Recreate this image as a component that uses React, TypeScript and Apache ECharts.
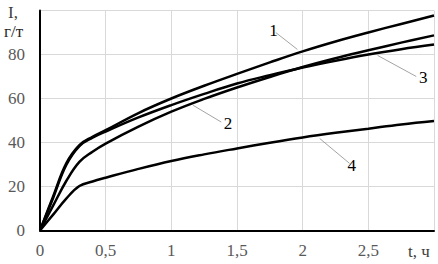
import React, { useEffect, useRef } from "react";
import * as echarts from "echarts";

const tValues = [0, 0.1, 0.2, 0.3, 0.4, 0.5, 0.75, 1, 1.25, 1.5, 1.75, 2, 2.25, 2.5, 2.75, 3];
const curve1 = [0, 15.5, 30.5, 38.8, 42.6, 45.6, 53.4, 60, 65.8, 71.2, 76.4, 81.4, 85.9, 90, 93.9, 97.7];
const curve2 = [0, 11.3, 22.5, 31.2, 35.8, 39.5, 47.2, 54, 59.8, 65, 69.8, 74.3, 78.3, 81.9, 85.4, 88.7];
const curve3 = [0, 14.8, 29.8, 38.4, 42.2, 45, 51.4, 57, 62.1, 66.8, 70.6, 74.1, 77.2, 80, 82.4, 84.5];
const curve4 = [0, 7.2, 14.5, 20.2, 22.3, 24, 28, 31.6, 34.6, 37.3, 39.9, 42.3, 44.4, 46.3, 48.2, 49.8];
const xTicks = [0, 0.5, 1, 1.5, 2, 2.5];
const yTicks = [0, 20, 40, 60, 80];
const curveNames = ["1", "2", "3", "4"];
// leader lines: [curve point, label end]
const leaders = [
  [[1.96, 82.3], [1.795, 90]],
  [[1.166, 56.9], [1.38, 49.3]],
  [[2.57, 79.6], [2.865, 70]],
  [[2.13, 41.8], [2.357, 30.5]],
];

const fmt = (v: number) => String(v).replace(".", ",");

export default function App() {
  const ref = useRef<HTMLDivElement>(null);
  useEffect(() => {
    document.body.style.margin = "0";
    const chart = echarts.init(ref.current!, undefined, { renderer: "svg" });
    const all = [curve1, curve2, curve3, curve4];
    const font = "'Liberation Serif', 'DejaVu Serif', serif";
    chart.setOption({
      animation: false,
      grid: { left: 40, right: 4, top: 10.5, bottom: 33.5 },
      xAxis: {
        type: "value",
        min: 0,
        max: 3,
        interval: 0.5,
        axisLine: { show: true, lineStyle: { color: "#000", width: 2 } },
        axisTick: { show: false },
        splitLine: { show: true, lineStyle: { color: "#d9d9d9", width: 1 } },
        axisLabel: {
          fontFamily: font,
          fontSize: 17,
          color: "#595959",
          margin: 11,
          formatter: (v: number) => (xTicks.includes(v) ? fmt(v) : ""),
        },
      },
      yAxis: {
        type: "value",
        min: 0,
        max: 100,
        interval: 20,
        axisLine: { show: true, lineStyle: { color: "#000", width: 2 } },
        axisTick: { show: false },
        splitLine: { show: true, lineStyle: { color: "#d9d9d9", width: 1 } },
        axisLabel: {
          fontFamily: font,
          fontSize: 17,
          color: "#595959",
          margin: 15,
          formatter: (v: number) => (yTicks.includes(v) ? String(v) : ""),
        },
      },
      graphic: [
        { type: "text", left: 8, top: 4, style: { text: "I,", font: `17px ${font}`, fill: "#404040" } },
        { type: "text", left: 4, top: 23, style: { text: "г/т", font: `17px ${font}`, fill: "#262626" } },
        { type: "text", left: 408, top: 243, style: { text: "t, ч", font: `17px ${font}`, fill: "#404040" } },
      ],
      series: all.map((d, i) => ({
        type: "line",
        name: curveNames[i],
        data: tValues.map((t, j) => [t, d[j]]),
        smooth: 0.4,
        symbol: "none",
        lineStyle: { color: "#000", width: 2.5 },
        z: 3,
        markLine: {
          silent: true,
          symbol: "none",
          lineStyle: { color: "#8c8c8c", width: 0.8, type: "solid" },
          label: {
            show: true,
            position: "end",
            formatter: curveNames[i],
            fontFamily: font,
            fontSize: 17,
            color: "#000",
            distance: 3,
          },
          data: [[{ coord: leaders[i][0] }, { coord: leaders[i][1] }]],
        },
      })),
    });
    return () => chart.dispose();
  }, []);
  return <div ref={ref} style={{ width: 438, height: 264 }} />;
}
